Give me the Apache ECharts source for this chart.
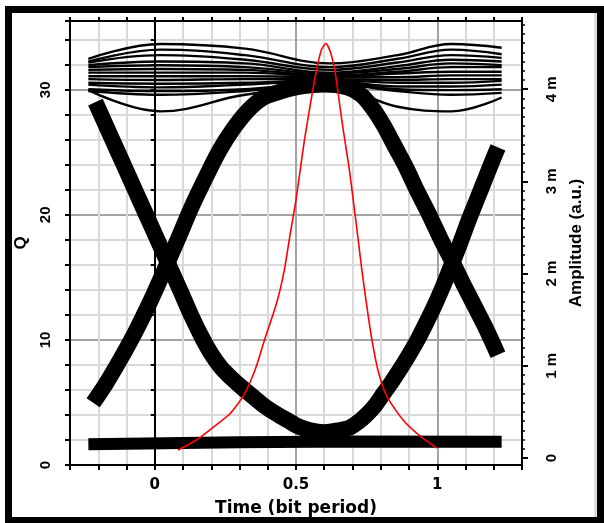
<!DOCTYPE html>
<html>
<head>
<meta charset="utf-8">
<script src="https://cdn.jsdelivr.net/npm/echarts@6/dist/echarts.min.js"></script>
<style>
html, body { margin: 0; padding: 0; background: #fff; }
#main { width: 604px; height: 523px; }
</style>
</head>
<body>
<div id="main"></div>
<script>
// time in bit periods, amplitude in m a.u. (right axis), Q on left axis
const xLabelValues = [0, 0.5, 1];
const qLabelValues = [0, 10, 20, 30];
const ampLabelValues = [0, 1, 2, 3, 4];

// the "1" level traces
const railT = [-0.235, 0.02, 0.32, 0.62, 0.86, 1.05, 1.228];
const railAmp = [
	[4.33, 4.49, 4.44, 4.28, 4.37, 4.49, 4.45],
	[4.30, 4.43, 4.37, 4.24, 4.33, 4.43, 4.38],
	[4.29, 4.37, 4.32, 4.21, 4.29, 4.37, 4.34],
	[4.26, 4.30, 4.28, 4.18, 4.25, 4.32, 4.30],
	[4.24, 4.26, 4.24, 4.17, 4.22, 4.28, 4.26],
	[4.21, 4.22, 4.21, 4.15, 4.19, 4.24, 4.24],
	[4.18, 4.18, 4.18, 4.14, 4.17, 4.19, 4.19],
	[4.14, 4.14, 4.14, 4.13, 4.13, 4.15, 4.15],
	[4.11, 4.10, 4.11, 4.11, 4.10, 4.11, 4.11],
	[4.07, 4.06, 4.07, 4.10, 4.07, 4.07, 4.09],
	[4.05, 4.02, 4.05, 4.09, 4.03, 4.03, 4.05],
	[4.00, 3.98, 4.00, 4.07, 4.00, 3.99, 4.00],
	[3.98, 3.94, 3.98, 4.06, 3.98, 3.94, 3.96],
	[3.99, 3.76, 3.94, 4.03, 3.81, 3.76, 3.91]
];

// the "0" level
const floorT = [-0.235, 0.3, 0.7, 1.228];
const floorAmp = [0.15, 0.17, 0.18, 0.175];

// 1-0-1 transitions
const dipT = [-0.21, -0.16, -0.11, -0.06, -0.01, 0.04, 0.09, 0.13, 0.17, 0.2, 0.235, 0.27, 0.31, 0.35, 0.39, 0.43, 0.47, 0.51, 0.55, 0.6, 0.65, 0.69, 0.72, 0.75, 0.78, 0.81, 0.84, 0.87, 0.9, 0.93, 0.96, 0.99, 1.02, 1.05, 1.08, 1.11, 1.14, 1.17, 1.2, 1.215];
const dipAmp = [3.86, 3.52, 3.18, 2.84, 2.50, 2.16, 1.82, 1.54, 1.29, 1.13, 0.98, 0.87, 0.76, 0.66, 0.56, 0.48, 0.41, 0.34, 0.30, 0.28, 0.30, 0.33, 0.39, 0.47, 0.57, 0.70, 0.83, 0.97, 1.12, 1.28, 1.46, 1.65, 1.86, 2.09, 2.32, 2.57, 2.80, 3.03, 3.26, 3.37];

// 0-1-0 transitions
const humpT = [-0.218, -0.17, -0.12, -0.07, -0.02, 0.03, 0.08, 0.13, 0.18, 0.23, 0.28, 0.33, 0.38, 0.43, 0.5, 0.6, 0.68, 0.73, 0.77, 0.81, 0.85, 0.89, 0.93, 0.97, 1.01, 1.05, 1.09, 1.13, 1.17, 1.215];
const humpAmp = [0.60, 0.82, 1.08, 1.36, 1.67, 2.01, 2.36, 2.72, 3.04, 3.34, 3.58, 3.77, 3.90, 3.96, 4.02, 4.05, 4.02, 3.94, 3.80, 3.61, 3.38, 3.15, 2.89, 2.65, 2.39, 2.15, 1.90, 1.66, 1.42, 1.12];

// Q factor curve (red)
const qT = [0.082, 0.148, 0.206, 0.266, 0.313, 0.355, 0.39, 0.432, 0.458, 0.479, 0.5, 0.515, 0.53, 0.552, 0.572, 0.59, 0.606, 0.622, 0.637, 0.65, 0.662, 0.674, 0.689, 0.703, 0.717, 0.732, 0.75, 0.768, 0.79, 0.821, 0.879, 0.945, 0.998];
const qVal = [1.2, 2.0, 3.0, 4.1, 5.5, 7.6, 10.1, 13.0, 15.5, 18.4, 21.2, 23.6, 26.0, 29.0, 31.5, 33.2, 33.7, 33.0, 31.6, 29.6, 27.6, 25.8, 23.6, 21.1, 18.6, 15.8, 12.8, 10.1, 7.6, 5.5, 3.6, 2.2, 1.36];

function pairs(ts, vs) {
	return ts.map(function (t, i) { return [t, vs[i]]; });
}

let ampMinorTicks = [];
for (let i = 0; i <= 47; i++) ampMinorTicks.push(i / 10);

const light = '#d9d9d9', dark = '#a3a3a3';
const tickFont = { color: '#000', fontFamily: 'DejaVu Sans', fontWeight: 'bold', fontSize: 15 };
const sideFont = { color: '#000', fontFamily: 'Liberation Sans', fontWeight: 'bold', fontSize: 15 };
const axisBlack = { color: '#000', width: 2 };

let series = [];
railAmp.forEach(function (r) {
	series.push({
		type: 'line', xAxisIndex: 0, yAxisIndex: 1, data: pairs(railT, r),
		symbol: 'none', smooth: 0.4, silent: true,
		lineStyle: { color: '#000', width: 2.4 }
	});
});
series.push({
	type: 'line', xAxisIndex: 0, yAxisIndex: 1, data: pairs(floorT, floorAmp),
	symbol: 'none', silent: true, lineStyle: { color: '#000', width: 12 }
});
series.push({
	type: 'line', xAxisIndex: 0, yAxisIndex: 1, data: pairs(dipT, dipAmp),
	symbol: 'none', smooth: 0.3, silent: true, lineStyle: { color: '#000', width: 16 }
});
series.push({
	type: 'line', xAxisIndex: 0, yAxisIndex: 1, data: pairs(humpT, humpAmp),
	symbol: 'none', smooth: 0.3, silent: true, lineStyle: { color: '#000', width: 16 }
});
series.push({
	type: 'line', xAxisIndex: 0, yAxisIndex: 0, data: pairs(qT, qVal),
	symbol: 'none', smooth: 0.2, silent: true, lineStyle: { color: '#ff0000', width: 1.6 }
});

let myChart = echarts.init(document.getElementById('main'));
let option = {
	backgroundColor: '#fff',
	animation: false,
	grid: { left: 70, right: 82, top: 21, bottom: 58, outerBoundsMode: 'none' },
	xAxis: [{
		type: 'value', position: 'bottom', min: -0.3, max: 1.3, interval: 0.1,
		axisLine: { onZero: false, lineStyle: axisBlack },
		axisTick: { length: 5, lineStyle: axisBlack },
		axisLabel: Object.assign({ customValues: xLabelValues, margin: 13 }, tickFont),
		splitLine: { show: true, lineStyle: { color: [light, light, light, dark, light], width: 2 } },
		name: 'Time (bit period)', nameLocation: 'middle', nameGap: 35,
		nameTextStyle: { color: '#000', fontFamily: 'DejaVu Sans', fontWeight: 'bold', fontSize: 17 }
	}, {
		type: 'value', position: 'top', min: -0.3, max: 1.3, interval: 0.1,
		axisLine: { onZero: false, lineStyle: axisBlack },
		axisTick: { length: 4, lineStyle: axisBlack },
		axisLabel: { show: false },
		splitLine: { show: false }
	}],
	yAxis: [{
		type: 'value', position: 'left', min: 0, max: 35.5, interval: 2,
		axisLine: { onZero: false, lineStyle: axisBlack },
		axisTick: { length: 5, lineStyle: axisBlack },
		axisLabel: Object.assign({ customValues: qLabelValues, rotate: 90, margin: 17 }, sideFont),
		splitLine: { show: true, lineStyle: { color: [dark, light, light, light, light], width: 2 } },
		name: 'Q', nameLocation: 'middle', nameGap: 38,
		nameTextStyle: { color: '#000', fontFamily: 'Liberation Sans', fontWeight: 'bold', fontSize: 17 }
	}, {
		type: 'value', position: 'right', min: -0.076, max: 4.74,
		axisLine: { onZero: false, lineStyle: axisBlack },
		axisTick: { customValues: ampLabelValues, length: 6, lineStyle: axisBlack },
		axisLabel: Object.assign({
			customValues: ampLabelValues, rotate: 90, margin: 22,
			formatter: function (v) { return v === 0 ? '0' : v + ' m'; }
		}, sideFont),
		splitLine: { show: false },
		name: 'Amplitude (a.u.)', nameLocation: 'middle', nameGap: 46,
		nameTextStyle: { color: '#000', fontFamily: 'Liberation Sans', fontWeight: 'bold', fontSize: 17 }
	}, {
		type: 'value', position: 'right', min: -0.076, max: 4.74,
		axisLine: { show: false, onZero: false },
		axisTick: { customValues: ampMinorTicks, length: 3, lineStyle: { color: '#000', width: 1.5 } },
		axisLabel: { show: false },
		splitLine: { show: false }
	}, {
		// the marker line at t = 0
		type: 'value', position: 'left', min: 0, max: 35.5, interval: 2,
		axisLine: { onZero: true, onZeroAxisIndex: 0, lineStyle: axisBlack },
		axisTick: { length: 4, lineStyle: axisBlack },
		axisLabel: { show: false },
		splitLine: { show: false }
	}],
	graphic: [{
		type: 'line', silent: true, z: 90,
		shape: { x1: 595.5, y1: 13, x2: 595.5, y2: 517 },
		style: { stroke: '#cfcfcf', lineWidth: 2 }
	}, {
		type: 'rect', silent: true, z: 100,
		shape: { x: 8.5, y: 9.5, width: 592, height: 511 },
		style: { fill: 'none', stroke: '#000', lineWidth: 7 }
	}],
	series: series
};
myChart.setOption(option);
</script>
</body>
</html>
